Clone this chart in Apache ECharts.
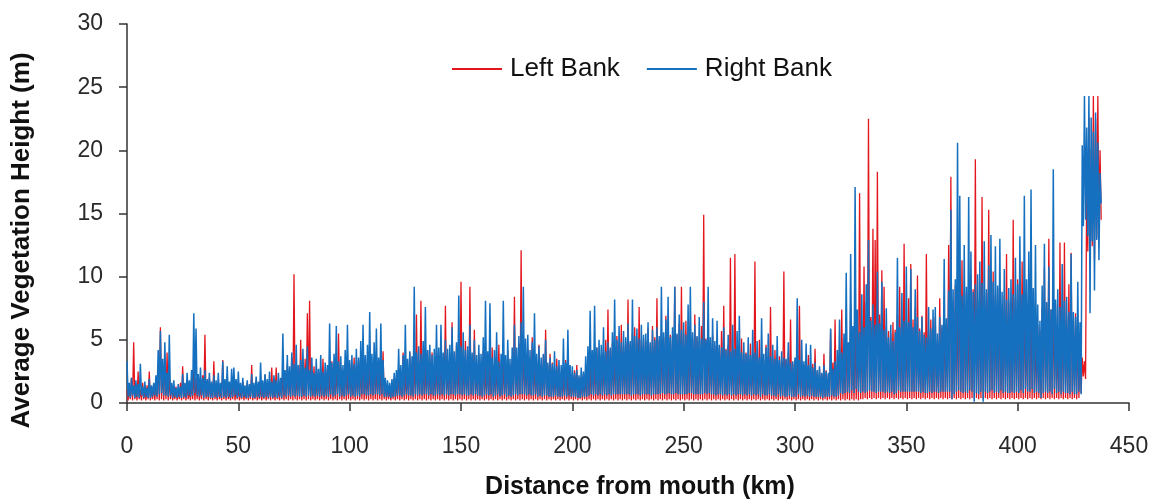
<!DOCTYPE html>
<html>
<head>
<meta charset="utf-8">
<script src="https://cdn.jsdelivr.net/npm/echarts@6/dist/echarts.min.js"></script>
<style>
  html, body { margin: 0; padding: 0; background: #fff; }
  #chart { width: 1155px; height: 500px; }
</style>
</head>
<body>
<div id="chart"></div>
<script>
// Sampling of the bank profiles along the river (km from the mouth)
const startKm = 0;
const stepKm = 0.5;

// Average vegetation height (m), left bank, two samples per km (one row = 10 km)
const leftBank = [
  1.0,0.2, 1.3,0.3, 2.0,0.2, 4.8,0.3, 1.2,0.2, 2.5,0.3, 1.1,0.2, 1.6,0.3, 1.0,0.2, 1.4,0.3,
  2.5,0.2, 1.2,0.3, 1.5,0.2, 1.8,0.3, 3.2,0.2, 6.0,0.3, 2.8,0.2, 3.4,0.3, 4.0,0.2, 2.1,0.3,
  1.5,0.2, 1.1,0.3, 1.3,0.2, 1.0,0.3, 1.6,0.2, 2.9,0.3, 1.2,0.2, 1.4,0.3, 1.1,0.2, 1.7,0.3,
  2.6,0.2, 2.0,0.3, 1.8,0.2, 1.5,0.3, 2.2,0.2, 5.4,0.3, 1.6,0.2, 2.0,0.3, 1.3,0.2, 3.3,0.3,
  1.2,0.2, 1.6,0.3, 1.1,0.2, 3.4,0.3, 1.4,0.2, 1.9,0.3, 1.0,0.2, 1.5,0.3, 2.1,0.2, 1.2,0.3,
  1.3,0.2, 1.0,0.3, 1.7,0.2, 1.1,0.3, 1.6,0.2, 1.2,0.3, 3.0,0.2, 1.3,0.3, 1.8,0.2, 1.1,0.3,
  1.5,0.2, 1.2,0.3, 2.2,0.2, 1.4,0.3, 1.7,0.2, 2.8,0.3, 1.3,0.2, 2.8,0.3, 1.2,0.2, 1.9,0.3,
  2.4,0.2, 2.0,0.3, 3.1,0.2, 2.2,0.3, 3.6,0.2, 10.2,0.3, 2.6,0.2, 3.0,0.3, 5.0,0.2, 2.4,0.3,
  3.5,0.2, 7.1,0.3, 8.1,0.2, 2.3,0.3, 2.9,0.2, 2.0,0.3, 2.6,0.2, 2.2,0.3, 3.5,0.2, 2.1,0.3,
  2.7,0.2, 2.4,0.3, 3.3,0.2, 2.6,0.3, 3.0,0.2, 5.5,0.3, 2.8,0.2, 2.4,0.3, 3.2,0.2, 2.5,0.3,
  3.1,0.2, 2.7,0.3, 3.6,0.2, 2.9,0.3, 3.4,0.2, 3.0,0.3, 3.8,0.2, 2.8,0.3, 2.6,0.2, 3.7,0.3,
  3.2,0.2, 3.5,0.3, 3.0,0.2, 3.3,0.3, 2.9,0.2, 4.1,0.3, 1.8,0.2, 1.4,0.3, 1.2,0.2, 1.7,0.3,
  2.0,0.2, 1.9,0.3, 2.8,0.2, 2.3,0.3, 4.0,0.2, 2.5,0.3, 2.7,0.2, 4.0,0.3, 2.6,0.2, 3.4,0.3,
  7.0,0.2, 3.1,0.3, 8.1,0.2, 3.3,0.3, 3.0,0.2, 4.2,0.3, 3.2,0.2, 4.0,0.3, 2.8,0.2, 3.5,0.3,
  3.0,0.2, 4.3,0.3, 3.2,0.2, 7.7,0.3, 3.1,0.2, 3.8,0.3, 6.4,0.2, 3.3,0.3, 4.6,0.2, 3.4,0.3,
  9.6,0.2, 3.5,0.3, 4.9,0.2, 3.6,0.3, 9.2,0.2, 3.4,0.3, 5.8,0.2, 3.0,0.3, 3.9,0.2, 3.1,0.3,
  4.1,0.2, 3.0,0.3, 3.8,0.2, 3.2,0.3, 4.4,0.2, 3.0,0.3, 3.4,0.2, 4.6,0.3, 2.9,0.2, 3.7,0.3,
  3.1,0.2, 4.2,0.3, 3.0,0.2, 3.5,0.3, 8.4,0.2, 3.6,0.3, 4.7,0.2, 12.1,0.3, 5.0,0.2, 3.8,0.3,
  4.3,0.2, 3.4,0.3, 5.2,0.2, 3.6,0.3, 3.1,0.2, 4.6,0.3, 3.0,0.2, 3.8,0.3, 5.8,0.2, 3.0,0.3,
  3.9,0.2, 3.2,0.3, 2.7,0.2, 3.5,0.3, 2.6,0.2, 2.3,0.3, 2.5,0.2, 3.4,0.3, 2.4,0.2, 2.4,0.3,
  2.2,0.2, 2.6,0.3, 3.0,0.2, 2.0,0.3, 2.1,0.2, 2.3,0.3, 2.4,0.2, 3.6,0.3, 3.0,0.2, 4.1,0.3,
  3.6,0.2, 4.4,0.3, 3.5,0.2, 3.8,0.3, 4.0,0.2, 5.0,0.3, 7.4,0.2, 4.2,0.3, 4.7,0.2, 4.3,0.3,
  5.3,0.2, 4.5,0.3, 6.2,0.2, 4.6,0.3, 4.8,0.2, 8.2,0.3, 4.7,0.2, 5.5,0.3, 6.0,0.2, 4.8,0.3,
  7.6,0.2, 5.0,0.3, 5.1,0.2, 4.9,0.3, 5.9,0.2, 4.6,0.3, 6.1,0.2, 5.2,0.3, 8.3,0.2, 5.0,0.3,
  5.6,0.2, 5.2,0.3, 6.9,0.2, 5.5,0.3, 5.4,0.2, 5.3,0.3, 9.2,0.2, 5.4,0.3, 6.3,0.2, 9.2,0.3,
  5.5,0.2, 6.5,0.3, 5.3,0.2, 5.8,0.3, 5.0,0.2, 7.0,0.3, 5.2,0.2, 4.9,0.3, 6.1,0.2, 14.9,0.3,
  5.1,0.2, 6.0,0.3, 4.8,0.2, 5.4,0.3, 4.5,0.2, 4.9,0.3, 4.4,0.2, 5.7,0.3, 7.7,0.2, 4.3,0.3,
  4.6,0.2, 11.5,0.3, 4.2,0.2, 11.8,0.3, 4.4,0.2, 4.0,0.3, 5.1,0.2, 3.9,0.3, 4.0,0.2, 3.8,0.3,
  4.7,0.2, 3.9,0.3, 11.2,0.2, 3.8,0.3, 5.0,0.2, 3.9,0.3, 3.4,0.2, 4.6,0.3, 3.7,0.2, 7.6,0.3,
  3.6,0.2, 4.2,0.3, 3.5,0.2, 3.7,0.3, 3.3,0.2, 10.4,0.3, 3.4,0.2, 4.0,0.3, 6.6,0.2, 3.1,0.3,
  3.4,0.2, 3.2,0.3, 7.7,0.2, 3.3,0.3, 3.0,0.2, 3.1,0.3, 3.8,0.2, 2.9,0.3, 3.1,0.2, 4.3,0.3,
  2.5,0.2, 2.7,0.3, 2.3,0.2, 3.9,0.3, 2.6,0.2, 2.3,0.3, 5.8,0.2, 3.2,0.3, 6.6,0.2, 3.0,0.3,
  4.4,0.2, 7.4,0.3, 4.0,0.2, 5.6,0.3, 4.6,0.2, 7.8,0.3, 5.0,0.2, 6.0,0.3, 5.4,0.2, 16.6,0.3,
  6.2,0.3, 10.8,0.4, 8.0,0.3, 22.5,0.4, 6.8,0.3, 13.8,0.4, 12.9,0.3, 18.3,0.4, 7.0,0.3, 10.5,0.4,
  9.2,0.3, 6.0,0.4, 5.7,0.3, 5.5,0.4, 6.4,0.3, 5.8,0.4, 7.0,0.3, 9.2,0.4, 6.1,0.3, 12.6,0.4,
  6.3,0.3, 8.3,0.4, 11.0,0.3, 6.6,0.4, 7.5,0.3, 10.1,0.4, 5.9,0.3, 6.9,0.4, 5.6,0.3, 11.8,0.4,
  5.8,0.3, 6.6,0.4, 5.5,0.3, 6.8,0.4, 4.8,0.3, 8.3,0.4, 6.0,0.3, 7.2,0.4, 6.4,0.3, 12.5,0.4,
  17.9,0.3, 8.0,0.4, 9.3,0.3, 8.4,0.4, 10.6,0.3, 11.3,0.4, 8.6,0.3, 8.8,0.4, 7.9,0.3, 10.2,0.4,
  9.0,0.3, 19.3,0.4, 8.2,0.3, 9.6,0.4, 16.3,0.3, 8.5,0.4, 8.7,0.3, 15.3,0.4, 8.8,0.3, 10.4,0.4,
  8.6,0.3, 9.1,0.4, 8.8,0.3, 6.8,0.4, 8.5,0.3, 11.8,0.4, 8.0,0.3, 7.9,0.4, 14.5,0.3, 8.3,0.4,
  9.8,0.3, 8.4,0.4, 11.2,0.3, 8.9,0.4, 6.5,0.3, 10.3,0.4, 8.2,0.3, 8.9,0.4, 6.0,0.3, 6.2,0.4,
  5.8,0.3, 7.5,0.4, 10.7,0.3, 7.9,0.4, 13.0,0.3, 7.4,0.4, 8.6,0.3, 7.8,0.4, 5.1,0.3, 12.7,0.4,
  7.3,0.3, 12.7,0.4, 6.8,0.3, 9.4,0.4, 11.9,0.3, 6.5,0.4, 7.1,0.3, 6.2,0.4, 4.6,0.8, 3.6,2.1,
  3.3,1.9, 17.5,12.0, 22.6,12.4, 20.1,12.4, 24.3,11.3, 22.5,13.0, 24.3,14.5, 20.0,14.5
];

// Average vegetation height (m), right bank, two samples per km (one row = 10 km)
const rightBank = [
  3.3,0.5, 1.6,0.4, 2.0,0.6, 1.4,0.4, 1.8,0.5, 1.5,0.4, 3.1,0.6, 1.3,0.4, 1.7,0.5, 1.2,0.4,
  1.9,0.4, 1.4,0.5, 1.6,0.6, 2.2,0.5, 4.2,0.7, 5.7,0.8, 3.5,0.6, 4.8,0.6, 2.4,0.5, 5.4,0.6,
  1.6,0.4, 1.8,0.5, 1.2,0.4, 1.5,0.5, 1.3,0.4, 2.3,0.5, 1.6,0.4, 2.4,0.6, 1.8,0.5, 2.6,0.6,
  7.1,0.8, 5.9,0.6, 2.3,0.5, 2.8,0.6, 2.0,0.4, 2.6,0.5, 1.9,0.5, 2.4,0.4, 1.7,0.4, 2.2,0.5,
  1.8,0.4, 2.4,0.5, 1.6,0.4, 3.3,0.5, 1.9,0.4, 2.9,0.5, 1.7,0.4, 2.7,0.5, 2.8,0.6, 1.9,0.4,
  2.5,0.5, 1.6,0.4, 2.0,0.5, 1.4,0.4, 1.8,0.4, 1.5,0.5, 2.3,0.4, 1.6,0.4, 2.1,0.5, 1.7,0.4,
  3.2,0.5, 1.8,0.4, 2.3,0.5, 1.9,0.4, 2.5,0.5, 1.7,0.4, 2.2,0.5, 1.8,0.4, 2.4,0.5, 2.0,0.4,
  5.5,0.6, 2.6,0.5, 3.8,0.6, 2.9,0.5, 4.0,0.6, 3.1,0.5, 4.6,0.6, 3.0,0.5, 3.4,0.5, 4.3,0.6,
  2.8,0.5, 4.5,0.6, 2.6,0.5, 3.6,0.6, 2.4,0.5, 3.5,0.6, 2.7,0.5, 3.8,0.6, 2.5,0.5, 3.2,0.6,
  3.0,0.5, 6.3,0.7, 3.2,0.5, 3.9,0.6, 6.1,0.7, 3.3,0.5, 3.7,0.6, 3.0,0.5, 4.2,0.6, 6.2,0.7,
  3.4,0.5, 3.8,0.6, 3.1,0.5, 4.3,0.6, 3.6,0.5, 4.9,0.7, 6.2,0.7, 3.8,0.6, 4.6,0.6, 7.2,0.7,
  3.9,0.6, 4.8,0.7, 5.9,0.7, 3.6,0.6, 6.3,0.7, 3.4,0.5, 2.0,0.5, 1.8,0.5, 1.6,0.4, 1.9,0.5,
  2.4,0.5, 2.6,0.6, 4.3,0.6, 3.0,0.5, 3.8,0.6, 6.2,0.7, 3.5,0.6, 4.1,0.6, 3.7,0.5, 9.2,0.7,
  4.0,0.6, 4.5,0.7, 3.9,0.6, 4.9,0.7, 7.6,0.7, 4.2,0.6, 4.6,0.7, 3.8,0.6, 4.3,0.6, 6.2,0.7,
  4.4,0.6, 6.2,0.7, 4.0,0.6, 5.0,0.7, 4.3,0.6, 4.6,0.7, 6.0,0.7, 4.1,0.6, 4.8,0.7, 8.5,0.7,
  4.5,0.6, 5.6,0.7, 4.2,0.6, 4.5,0.6, 6.2,0.7, 4.0,0.6, 5.0,0.7, 3.8,0.6, 4.6,0.6, 3.9,0.5,
  5.2,0.6, 8.1,0.7, 4.1,0.6, 7.9,0.7, 3.6,0.5, 4.2,0.6, 5.6,0.7, 3.3,0.5, 3.9,0.6, 8.1,0.7,
  3.8,0.5, 5.0,0.6, 3.5,0.5, 4.4,0.6, 6.2,0.7, 4.4,0.6, 5.3,0.7, 6.4,0.7, 9.2,0.7, 5.1,0.6,
  5.4,0.7, 4.2,0.6, 4.8,0.6, 7.1,0.7, 3.9,0.5, 4.5,0.6, 3.6,0.5, 3.9,0.6, 5.0,0.6, 3.2,0.5,
  3.6,0.5, 3.1,0.5, 4.1,0.6, 2.9,0.5, 3.4,0.5, 3.0,0.5, 5.1,0.6, 3.2,0.5, 5.8,0.6, 3.0,0.5,
  2.9,0.5, 2.4,0.5, 2.6,0.4, 2.2,0.4, 2.8,0.5, 2.5,0.5, 3.7,0.5, 4.5,0.6, 7.3,0.7, 4.2,0.6,
  7.7,0.7, 4.4,0.6, 5.0,0.7, 4.6,0.6, 6.0,0.7, 4.1,0.6, 4.8,0.7, 4.4,0.6, 5.6,0.7, 8.2,0.7,
  5.0,0.7, 6.1,0.7, 4.8,0.7, 5.7,0.7, 5.2,0.7, 6.3,0.7, 4.9,0.6, 8.2,0.7, 5.3,0.7, 5.9,0.7,
  5.1,0.6, 6.2,0.7, 5.4,0.7, 5.5,0.7, 6.4,0.7, 4.8,0.6, 5.8,0.7, 5.0,0.7, 6.0,0.7, 5.3,0.7,
  9.2,0.8, 5.6,0.7, 6.6,0.7, 8.4,0.8, 5.2,0.7, 6.0,0.7, 9.2,0.8, 5.5,0.7, 7.0,0.7, 5.8,0.7,
  6.4,0.7, 5.4,0.7, 7.8,0.8, 9.2,0.8, 5.6,0.7, 6.2,0.7, 5.3,0.7, 6.8,0.7, 5.1,0.7, 8.0,0.8,
  5.0,0.7, 9.2,0.8, 5.2,0.7, 6.7,0.7, 4.9,0.6, 6.5,0.7, 4.6,0.7, 4.4,0.6, 6.0,0.7, 4.2,0.6,
  5.4,0.7, 4.1,0.6, 6.2,0.7, 4.3,0.6, 5.7,0.7, 6.9,0.7, 4.0,0.6, 4.8,0.7, 3.9,0.6, 5.2,0.7,
  3.8,0.6, 5.8,0.7, 4.0,0.6, 4.9,0.7, 3.6,0.5, 6.7,0.7, 3.9,0.6, 4.4,0.6, 5.5,0.7, 3.7,0.6,
  4.6,0.6, 3.5,0.5, 5.3,0.7, 3.4,0.5, 4.1,0.6, 3.6,0.5, 3.5,0.5, 4.8,0.6, 3.2,0.5, 3.3,0.5,
  3.6,0.5, 8.3,0.7, 3.4,0.5, 5.0,0.6, 3.3,0.5, 4.7,0.6, 3.0,0.5, 4.6,0.6, 2.8,0.5, 3.2,0.5,
  2.6,0.5, 2.9,0.5, 2.4,0.4, 3.0,0.5, 2.5,0.5, 2.4,0.5, 5.9,0.6, 2.7,0.5, 3.3,0.5, 4.2,0.6,
  6.6,0.8, 4.0,0.7, 5.5,0.8, 10.3,0.9, 4.8,0.8, 11.8,1.0, 6.1,0.8, 17.1,1.1, 7.4,0.9, 5.6,0.8,
  8.6,0.9, 6.0,0.8, 9.4,0.9, 12.9,1.0, 6.5,0.9, 7.8,0.9, 6.2,0.8, 10.4,0.9, 6.3,0.9, 9.6,0.9,
  5.8,0.8, 7.5,0.9, 5.2,0.8, 6.2,0.9, 4.9,0.7, 5.6,0.8, 11.5,1.0, 6.0,0.9, 8.7,0.9, 6.5,0.9,
  10.8,0.9, 6.4,0.9, 10.6,0.9, 6.0,0.9, 9.0,0.9, 6.8,0.9, 5.7,0.8, 6.8,0.9, 5.4,0.8, 5.2,0.8,
  7.6,0.9, 5.9,0.8, 7.4,0.9, 7.6,0.9, 5.5,0.8, 6.8,0.9, 6.2,0.9, 11.4,0.9, 6.7,0.9, 8.9,0.9,
  15.3,0.3, 9.0,0.7, 9.8,0.9, 20.6,1.0, 16.4,0.9, 8.5,0.8, 12.5,0.9, 9.2,0.8, 16.3,1.0, 12.0,0.9,
  8.8,0.1, 9.4,0.8, 10.2,0.7, 11.2,0.9, 9.5,0.1, 12.8,0.9, 9.0,0.8, 10.9,0.9, 13.3,1.0, 9.6,0.8,
  12.4,0.9, 9.3,0.8, 13.0,1.0, 8.8,0.8, 10.6,0.9, 8.2,0.8, 9.1,0.8, 9.8,0.9, 8.6,0.8, 11.5,0.9,
  9.4,0.8, 13.2,1.0, 8.6,0.8, 16.4,1.1, 9.8,0.9, 12.0,0.9, 16.9,1.1, 9.1,0.8, 12.5,0.9, 7.8,0.8,
  6.5,0.4, 9.3,0.8, 12.6,0.9, 8.0,0.8, 10.8,0.9, 7.4,0.7, 18.5,1.1, 8.2,0.8, 9.0,0.9, 7.6,0.7,
  11.0,0.9, 8.1,0.8, 8.4,0.8, 7.2,0.7, 11.8,0.9, 7.2,0.7, 6.8,0.7, 9.6,0.9, 6.4,0.7, 20.4,14.0,
  24.3,14.5, 21.8,13.2, 24.3,7.1, 22.6,12.8, 21.5,8.9, 23.0,12.9, 20.6,11.3, 18.2,15.8
];

// Axis ticks
const xTicks = { min: 0, max: 450, interval: 50 };
const yTicks = { min: 0, max: 30, interval: 5 };

const toPairs = values => values.map((v, i) => [startKm + i * stepKm, v]);

const chart = echarts.init(document.getElementById('chart'), null, { renderer: 'canvas' });

const fontFamily = 'Liberation Sans, Arial, sans-serif';
const axisFont = { fontFamily, fontSize: 23, color: '#2a2a2a' };
const titleFont = { fontFamily, fontSize: 25, fontWeight: 'bold', color: '#111' };

chart.setOption({
  animation: false,
  backgroundColor: '#fff',
  grid: { left: 127, right: 26, top: 24, bottom: 97, containLabel: false, outerBoundsMode: 'none' },
  legend: {
    left: 447,
    top: 51,
    icon: 'rect',
    itemWidth: 50,
    itemHeight: 2,
    itemGap: 27,
    textStyle: { fontFamily, fontSize: 26, color: '#111', padding: [0, 0, 0, 3] },
    data: ['Left Bank', 'Right Bank']
  },
  xAxis: {
    type: 'value',
    min: xTicks.min,
    max: xTicks.max,
    interval: xTicks.interval,
    name: 'Distance from mouth (km)',
    nameLocation: 'middle',
    nameGap: 72,
    nameTextStyle: Object.assign({}, titleFont, { padding: [0, 0, 0, 24] }),
    axisLine: { show: true, onZero: false, lineStyle: { color: '#333', width: 1.5 } },
    axisTick: { show: true, length: 8, lineStyle: { color: '#333', width: 1.5 } },
    axisLabel: Object.assign({ margin: 32 }, axisFont),
    splitLine: { show: false }
  },
  yAxis: {
    type: 'value',
    min: yTicks.min,
    max: yTicks.max,
    interval: yTicks.interval,
    name: 'Average Vegetation Height (m)',
    nameLocation: 'middle',
    nameGap: 92,
    nameTextStyle: Object.assign({}, titleFont, { fontSize: 26, padding: [0, 54, 0, 0] }),
    axisLine: { show: true, lineStyle: { color: '#333', width: 1.5 } },
    axisTick: { show: true, length: 8, lineStyle: { color: '#333', width: 1.5 } },
    axisLabel: Object.assign({ margin: 24 }, axisFont),
    splitLine: { show: false }
  },
  series: [
    {
      name: 'Left Bank',
      type: 'line',
      data: toPairs(leftBank),
      symbol: 'none',
      lineStyle: { color: '#e3161e', width: 1.3 },
      itemStyle: { color: '#e3161e' },
      z: 2
    },
    {
      name: 'Right Bank',
      type: 'line',
      data: toPairs(rightBank),
      symbol: 'none',
      lineStyle: { color: '#1570c0', width: 1.5 },
      itemStyle: { color: '#1570c0' },
      z: 3
    }
  ]
});
</script>
</body>
</html>
